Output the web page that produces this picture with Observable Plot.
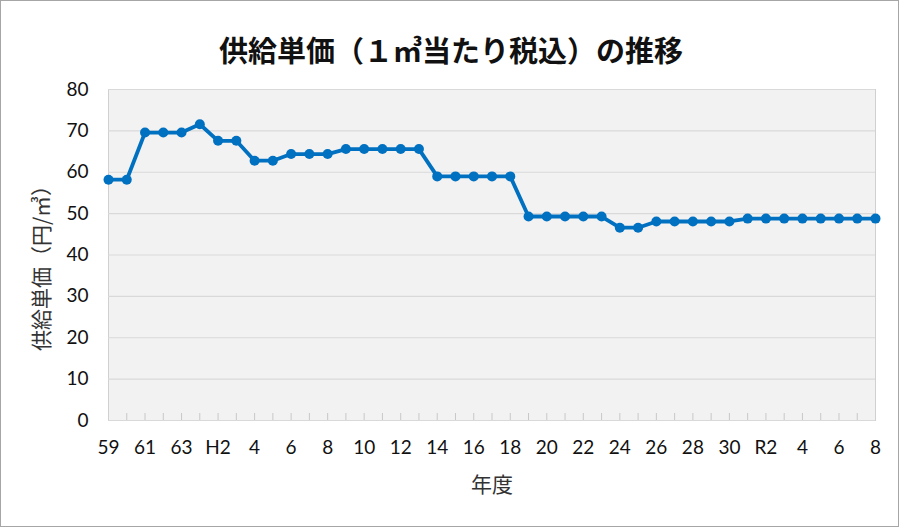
<!DOCTYPE html>
<html>
<head>
<meta charset="utf-8">
<script src="https://cdn.jsdelivr.net/npm/d3@7"></script>
<script src="https://cdn.jsdelivr.net/npm/@observablehq/plot@0.6"></script>
<style>
  html, body { margin: 0; padding: 0; background: #fff; }
  #wrap { position: relative; width: 900px; height: 527px; overflow: hidden; }
  #wrap svg { position: absolute; left: 0; top: 0; }
  #border { position: absolute; left: 0; top: 0; width: 897px; height: 525px; border: 1px solid #a6a6a6; pointer-events: none; }
</style>
</head>
<body>
<div id="wrap"><div id="border"></div></div>
<script>
const title = "供給単価（１㎥当たり税込）の推移";
const yLabel = "供給単価（円/㎥）";
const xLabel = "年度";

const years = ["S59","S60","S61","S62","S63","H1","H2","H3","H4","H5","H6","H7","H8","H9","H10","H11","H12","H13","H14","H15","H16","H17","H18","H19","H20","H21","H22","H23","H24","H25","H26","H27","H28","H29","H30","R1","R2","R3","R4","R5","R6","R7","R8"];
const tickLabels = ["59","","61","","63","","H2","","4","","6","","8","","10","","12","","14","","16","","18","","20","","22","","24","","26","","28","","30","","R2","","4","","6","","8"];
const prices = [58.2,58.2,69.6,69.6,69.6,71.6,67.6,67.6,62.8,62.8,64.4,64.4,64.4,65.6,65.6,65.6,65.6,65.6,59.0,59.0,59.0,59.0,59.0,49.3,49.3,49.3,49.3,49.3,46.6,46.6,48.1,48.1,48.1,48.1,48.1,48.8,48.8,48.8,48.8,48.8,48.8,48.8,48.8];
const yTicks = [0,10,20,30,40,50,60,70,80];

const data = years.map((y, i) => ({year: y, price: prices[i]}));
const FONT = "Lato, 'Noto Sans CJK JP', sans-serif";
const JP = "'Noto Sans CJK JP', sans-serif";
const COLOR = "#0070C0";

const chart = Plot.plot({
  width: 900,
  height: 527,
  marginLeft: 108,
  marginRight: 25,
  marginTop: 89,
  marginBottom: 107,
  style: {fontFamily: FONT, fontSize: "18px", background: "transparent", color: "#111"},
  x: {type: "point", domain: years, padding: 0, round: false, label: null},
  y: {domain: [0, 80], label: null},
  marks: [
    Plot.frame({fill: "#f2f2f2", stroke: "#d0d0d0"}),
    Plot.gridY(yTicks, {stroke: "#d9d9d9", strokeOpacity: 1, strokeWidth: 1.2}),
    Plot.ruleX(years.slice(1, -1), {x: d => d, y1: 0, y2: 0, insetTop: -7, stroke: "#c8c8c8"}),
    Plot.axisY(yTicks, {tickSize: 0, tickPadding: 20, fontSize: 19, fill: "#111", fontFamily: FONT}),
    Plot.axisX({tickSize: 0, tickPadding: 20, fontSize: 19, fill: "#111", fontFamily: FONT,
      tickFormat: d => tickLabels[years.indexOf(d)]}),
    Plot.line(data, {x: "year", y: "price", stroke: COLOR, strokeWidth: 3.8}),
    Plot.dot(data, {x: "year", y: "price", fill: COLOR, r: 5}),
    Plot.text([title], {text: d => d, frameAnchor: "top", dx: -41, dy: -37, fontSize: 29, fontWeight: "bold", fill: "#111", fontFamily: JP, lineAnchor: "middle"}),
    Plot.text([yLabel], {text: d => d, frameAnchor: "left", dx: -66, dy: 8, rotate: -90, textAnchor: "middle", fontSize: 21, fill: "#333", fontFamily: JP}),
    Plot.text([xLabel], {text: d => d, frameAnchor: "bottom", dy: 65, fontSize: 21, fill: "#333", fontFamily: JP, lineAnchor: "middle"})
  ]
});
document.getElementById("wrap").prepend(chart);
</script>
</body>
</html>
